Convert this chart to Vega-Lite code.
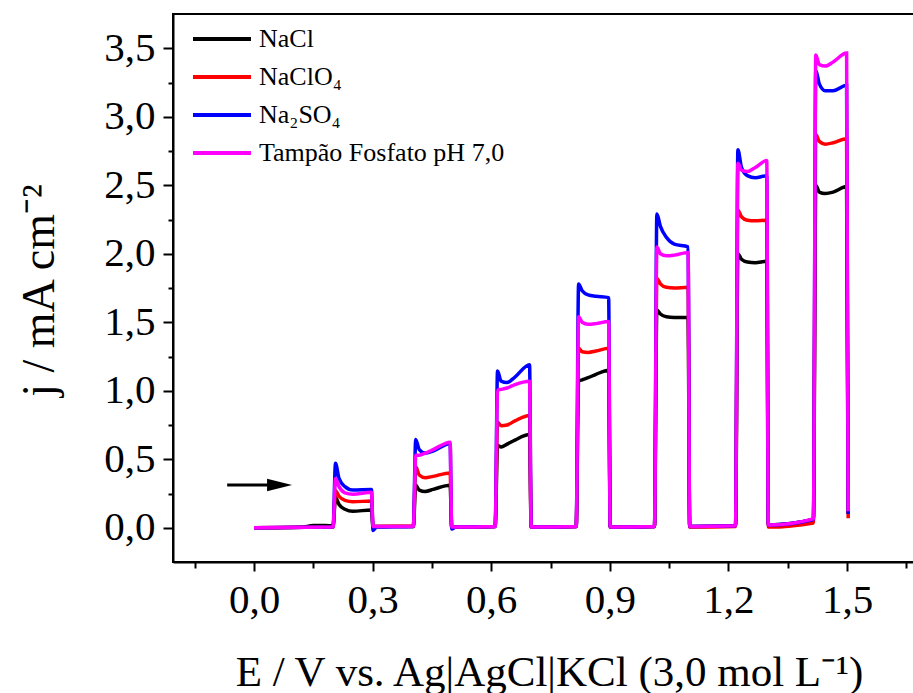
{
  "$schema": "https://vega.github.io/schema/vega-lite/v6.json",
  "width": 742,
  "height": 548,
  "autosize": {"type": "none"},
  "padding": {"left": 173, "top": 14, "right": 0, "bottom": 131},
  "background": "white",
  "view": {"stroke": "black", "strokeWidth": 2},
  "config": {
    "font": "Liberation Serif",
    "axis": {"grid": false, "domainColor": "black", "tickColor": "black", "labelColor": "black", "titleColor": "black", "labelFont": "Liberation Serif", "titleFont": "Liberation Serif", "domainWidth": 2, "tickWidth": 2, "titleFontWeight": "normal", "labelFlush": false, "labelOverlap": false, "labelBound": false},
    "legend": {"labelFont": "Liberation Serif", "labelColor": "black"}
  },
  "datasets": {
    "curves": [
      {"s": "NaCl", "E": 0, "j": 0}, {"s": "NaCl", "E": 0.12, "j": 0.004}, {"s": "NaCl", "E": 0.15, "j": 0.016}, {"s": "NaCl", "E": 0.18, "j": 0.016}, {"s": "NaCl", "E": 0.2, "j": 0.014},
      {"s": "NaCl", "E": 0.206, "j": 0.22}, {"s": "NaCl", "E": 0.215, "j": 0.17}, {"s": "NaCl", "E": 0.23, "j": 0.135}, {"s": "NaCl", "E": 0.25, "j": 0.12}, {"s": "NaCl", "E": 0.297, "j": 0.13}, {"s": "NaCl", "E": 0.301, "j": 0.01},
      {"s": "NaCl", "E": 0.403, "j": 0.01}, {"s": "NaCl", "E": 0.409, "j": 0.31}, {"s": "NaCl", "E": 0.418, "j": 0.275}, {"s": "NaCl", "E": 0.433, "j": 0.265}, {"s": "NaCl", "E": 0.453, "j": 0.28}, {"s": "NaCl", "E": 0.496, "j": 0.31}, {"s": "NaCl", "E": 0.5, "j": 0.005},
      {"s": "NaCl", "E": 0.61, "j": 0.01}, {"s": "NaCl", "E": 0.616, "j": 0.6}, {"s": "NaCl", "E": 0.625, "j": 0.59}, {"s": "NaCl", "E": 0.64, "j": 0.61}, {"s": "NaCl", "E": 0.66, "j": 0.64}, {"s": "NaCl", "E": 0.697, "j": 0.68}, {"s": "NaCl", "E": 0.701, "j": 0.005},
      {"s": "NaCl", "E": 0.815, "j": 0.01}, {"s": "NaCl", "E": 0.821, "j": 1.07}, {"s": "NaCl", "E": 0.83, "j": 1.08}, {"s": "NaCl", "E": 0.845, "j": 1.095}, {"s": "NaCl", "E": 0.865, "j": 1.12}, {"s": "NaCl", "E": 0.897, "j": 1.15}, {"s": "NaCl", "E": 0.901, "j": 0.005},
      {"s": "NaCl", "E": 1.013, "j": 0.01}, {"s": "NaCl", "E": 1.019, "j": 1.59}, {"s": "NaCl", "E": 1.028, "j": 1.56}, {"s": "NaCl", "E": 1.043, "j": 1.54}, {"s": "NaCl", "E": 1.063, "j": 1.535}, {"s": "NaCl", "E": 1.098, "j": 1.535}, {"s": "NaCl", "E": 1.102, "j": 0.01},
      {"s": "NaCl", "E": 1.218, "j": 0.015}, {"s": "NaCl", "E": 1.224, "j": 2.0}, {"s": "NaCl", "E": 1.233, "j": 1.96}, {"s": "NaCl", "E": 1.248, "j": 1.94}, {"s": "NaCl", "E": 1.268, "j": 1.935}, {"s": "NaCl", "E": 1.297, "j": 1.945}, {"s": "NaCl", "E": 1.301, "j": 0.02},
      {"s": "NaCl", "E": 1.415, "j": 0.06}, {"s": "NaCl", "E": 1.421, "j": 2.5}, {"s": "NaCl", "E": 1.43, "j": 2.45}, {"s": "NaCl", "E": 1.445, "j": 2.44}, {"s": "NaCl", "E": 1.465, "j": 2.45}, {"s": "NaCl", "E": 1.499, "j": 2.49}, {"s": "NaCl", "E": 1.503, "j": 0.1},

      {"s": "NaClO₄", "E": 0, "j": 0}, {"s": "NaClO₄", "E": 0.2, "j": 0.005},
      {"s": "NaClO₄", "E": 0.206, "j": 0.27}, {"s": "NaClO₄", "E": 0.215, "j": 0.23}, {"s": "NaClO₄", "E": 0.23, "j": 0.2}, {"s": "NaClO₄", "E": 0.25, "j": 0.19}, {"s": "NaClO₄", "E": 0.297, "j": 0.195}, {"s": "NaClO₄", "E": 0.301, "j": 0.01},
      {"s": "NaClO₄", "E": 0.403, "j": 0.012}, {"s": "NaClO₄", "E": 0.409, "j": 0.445}, {"s": "NaClO₄", "E": 0.418, "j": 0.385}, {"s": "NaClO₄", "E": 0.433, "j": 0.365}, {"s": "NaClO₄", "E": 0.453, "j": 0.375}, {"s": "NaClO₄", "E": 0.496, "j": 0.4}, {"s": "NaClO₄", "E": 0.5, "j": 0.005},
      {"s": "NaClO₄", "E": 0.61, "j": 0.01}, {"s": "NaClO₄", "E": 0.616, "j": 0.77}, {"s": "NaClO₄", "E": 0.625, "j": 0.745}, {"s": "NaClO₄", "E": 0.64, "j": 0.75}, {"s": "NaClO₄", "E": 0.66, "j": 0.78}, {"s": "NaClO₄", "E": 0.697, "j": 0.82}, {"s": "NaClO₄", "E": 0.701, "j": 0.005},
      {"s": "NaClO₄", "E": 0.815, "j": 0.01}, {"s": "NaClO₄", "E": 0.821, "j": 1.31}, {"s": "NaClO₄", "E": 0.83, "j": 1.285}, {"s": "NaClO₄", "E": 0.845, "j": 1.28}, {"s": "NaClO₄", "E": 0.865, "j": 1.29}, {"s": "NaClO₄", "E": 0.897, "j": 1.31}, {"s": "NaClO₄", "E": 0.901, "j": 0.005},
      {"s": "NaClO₄", "E": 1.013, "j": 0.01}, {"s": "NaClO₄", "E": 1.019, "j": 1.82}, {"s": "NaClO₄", "E": 1.028, "j": 1.78}, {"s": "NaClO₄", "E": 1.043, "j": 1.755}, {"s": "NaClO₄", "E": 1.063, "j": 1.75}, {"s": "NaClO₄", "E": 1.098, "j": 1.755}, {"s": "NaClO₄", "E": 1.102, "j": 0.005},
      {"s": "NaClO₄", "E": 1.218, "j": 0.01}, {"s": "NaClO₄", "E": 1.224, "j": 2.32}, {"s": "NaClO₄", "E": 1.233, "j": 2.27}, {"s": "NaClO₄", "E": 1.248, "j": 2.245}, {"s": "NaClO₄", "E": 1.268, "j": 2.24}, {"s": "NaClO₄", "E": 1.297, "j": 2.245}, {"s": "NaClO₄", "E": 1.301, "j": 0.005},
      {"s": "NaClO₄", "E": 1.415, "j": 0.035}, {"s": "NaClO₄", "E": 1.421, "j": 2.87}, {"s": "NaClO₄", "E": 1.43, "j": 2.82}, {"s": "NaClO₄", "E": 1.445, "j": 2.8}, {"s": "NaClO₄", "E": 1.465, "j": 2.81}, {"s": "NaClO₄", "E": 1.499, "j": 2.84}, {"s": "NaClO₄", "E": 1.503, "j": 0.07},

      {"s": "Na₂SO₄", "E": 0, "j": 0}, {"s": "Na₂SO₄", "E": 0.2, "j": 0.005},
      {"s": "Na₂SO₄", "E": 0.206, "j": 0.47}, {"s": "Na₂SO₄", "E": 0.215, "j": 0.36}, {"s": "Na₂SO₄", "E": 0.23, "j": 0.3}, {"s": "Na₂SO₄", "E": 0.25, "j": 0.275}, {"s": "Na₂SO₄", "E": 0.297, "j": 0.28}, {"s": "Na₂SO₄", "E": 0.301, "j": -0.02}, {"s": "Na₂SO₄", "E": 0.31, "j": 0.005},
      {"s": "Na₂SO₄", "E": 0.403, "j": 0.01}, {"s": "Na₂SO₄", "E": 0.409, "j": 0.645}, {"s": "Na₂SO₄", "E": 0.418, "j": 0.57}, {"s": "Na₂SO₄", "E": 0.433, "j": 0.545}, {"s": "Na₂SO₄", "E": 0.453, "j": 0.56}, {"s": "Na₂SO₄", "E": 0.496, "j": 0.615}, {"s": "Na₂SO₄", "E": 0.5, "j": -0.01}, {"s": "Na₂SO₄", "E": 0.51, "j": 0.005},
      {"s": "Na₂SO₄", "E": 0.61, "j": 0.01}, {"s": "Na₂SO₄", "E": 0.616, "j": 1.145}, {"s": "Na₂SO₄", "E": 0.625, "j": 1.07}, {"s": "Na₂SO₄", "E": 0.64, "j": 1.06}, {"s": "Na₂SO₄", "E": 0.66, "j": 1.1}, {"s": "Na₂SO₄", "E": 0.697, "j": 1.19}, {"s": "Na₂SO₄", "E": 0.701, "j": 0.005},
      {"s": "Na₂SO₄", "E": 0.815, "j": 0.01}, {"s": "Na₂SO₄", "E": 0.821, "j": 1.78}, {"s": "Na₂SO₄", "E": 0.83, "j": 1.73}, {"s": "Na₂SO₄", "E": 0.845, "j": 1.7}, {"s": "Na₂SO₄", "E": 0.865, "j": 1.69}, {"s": "Na₂SO₄", "E": 0.897, "j": 1.68}, {"s": "Na₂SO₄", "E": 0.901, "j": 0.005},
      {"s": "Na₂SO₄", "E": 1.013, "j": 0.01}, {"s": "Na₂SO₄", "E": 1.019, "j": 2.29}, {"s": "Na₂SO₄", "E": 1.028, "j": 2.2}, {"s": "Na₂SO₄", "E": 1.043, "j": 2.12}, {"s": "Na₂SO₄", "E": 1.063, "j": 2.07}, {"s": "Na₂SO₄", "E": 1.098, "j": 2.05}, {"s": "Na₂SO₄", "E": 1.102, "j": 0.01},
      {"s": "Na₂SO₄", "E": 1.218, "j": 0.015}, {"s": "Na₂SO₄", "E": 1.224, "j": 2.76}, {"s": "Na₂SO₄", "E": 1.233, "j": 2.63}, {"s": "Na₂SO₄", "E": 1.248, "j": 2.57}, {"s": "Na₂SO₄", "E": 1.268, "j": 2.555}, {"s": "Na₂SO₄", "E": 1.297, "j": 2.57}, {"s": "Na₂SO₄", "E": 1.301, "j": 0.02},
      {"s": "Na₂SO₄", "E": 1.415, "j": 0.06}, {"s": "Na₂SO₄", "E": 1.421, "j": 3.34}, {"s": "Na₂SO₄", "E": 1.43, "j": 3.24}, {"s": "Na₂SO₄", "E": 1.445, "j": 3.19}, {"s": "Na₂SO₄", "E": 1.465, "j": 3.19}, {"s": "Na₂SO₄", "E": 1.499, "j": 3.23}, {"s": "Na₂SO₄", "E": 1.503, "j": 0.1},

      {"s": "Tampão Fosfato pH 7,0", "E": 0, "j": 0}, {"s": "Tampão Fosfato pH 7,0", "E": 0.2, "j": 0.005},
      {"s": "Tampão Fosfato pH 7,0", "E": 0.206, "j": 0.36}, {"s": "Tampão Fosfato pH 7,0", "E": 0.215, "j": 0.3}, {"s": "Tampão Fosfato pH 7,0", "E": 0.23, "j": 0.255}, {"s": "Tampão Fosfato pH 7,0", "E": 0.25, "j": 0.245}, {"s": "Tampão Fosfato pH 7,0", "E": 0.297, "j": 0.26}, {"s": "Tampão Fosfato pH 7,0", "E": 0.301, "j": 0.01},
      {"s": "Tampão Fosfato pH 7,0", "E": 0.403, "j": 0.01}, {"s": "Tampão Fosfato pH 7,0", "E": 0.409, "j": 0.53}, {"s": "Tampão Fosfato pH 7,0", "E": 0.418, "j": 0.53}, {"s": "Tampão Fosfato pH 7,0", "E": 0.433, "j": 0.545}, {"s": "Tampão Fosfato pH 7,0", "E": 0.453, "j": 0.57}, {"s": "Tampão Fosfato pH 7,0", "E": 0.496, "j": 0.625}, {"s": "Tampão Fosfato pH 7,0", "E": 0.5, "j": 0.005},
      {"s": "Tampão Fosfato pH 7,0", "E": 0.61, "j": 0.01}, {"s": "Tampão Fosfato pH 7,0", "E": 0.616, "j": 1.005}, {"s": "Tampão Fosfato pH 7,0", "E": 0.625, "j": 1.01}, {"s": "Tampão Fosfato pH 7,0", "E": 0.64, "j": 1.02}, {"s": "Tampão Fosfato pH 7,0", "E": 0.66, "j": 1.045}, {"s": "Tampão Fosfato pH 7,0", "E": 0.697, "j": 1.07}, {"s": "Tampão Fosfato pH 7,0", "E": 0.701, "j": 0.005},
      {"s": "Tampão Fosfato pH 7,0", "E": 0.815, "j": 0.01}, {"s": "Tampão Fosfato pH 7,0", "E": 0.821, "j": 1.54}, {"s": "Tampão Fosfato pH 7,0", "E": 0.83, "j": 1.5}, {"s": "Tampão Fosfato pH 7,0", "E": 0.845, "j": 1.485}, {"s": "Tampão Fosfato pH 7,0", "E": 0.865, "j": 1.49}, {"s": "Tampão Fosfato pH 7,0", "E": 0.897, "j": 1.505}, {"s": "Tampão Fosfato pH 7,0", "E": 0.901, "j": 0.005},
      {"s": "Tampão Fosfato pH 7,0", "E": 1.013, "j": 0.01}, {"s": "Tampão Fosfato pH 7,0", "E": 1.019, "j": 2.05}, {"s": "Tampão Fosfato pH 7,0", "E": 1.028, "j": 2.0}, {"s": "Tampão Fosfato pH 7,0", "E": 1.043, "j": 1.985}, {"s": "Tampão Fosfato pH 7,0", "E": 1.063, "j": 1.99}, {"s": "Tampão Fosfato pH 7,0", "E": 1.098, "j": 2.01}, {"s": "Tampão Fosfato pH 7,0", "E": 1.102, "j": 0.01},
      {"s": "Tampão Fosfato pH 7,0", "E": 1.218, "j": 0.015}, {"s": "Tampão Fosfato pH 7,0", "E": 1.224, "j": 2.66}, {"s": "Tampão Fosfato pH 7,0", "E": 1.233, "j": 2.61}, {"s": "Tampão Fosfato pH 7,0", "E": 1.248, "j": 2.6}, {"s": "Tampão Fosfato pH 7,0", "E": 1.268, "j": 2.63}, {"s": "Tampão Fosfato pH 7,0", "E": 1.297, "j": 2.68}, {"s": "Tampão Fosfato pH 7,0", "E": 1.301, "j": 0.02},
      {"s": "Tampão Fosfato pH 7,0", "E": 1.415, "j": 0.065}, {"s": "Tampão Fosfato pH 7,0", "E": 1.421, "j": 3.45}, {"s": "Tampão Fosfato pH 7,0", "E": 1.43, "j": 3.38}, {"s": "Tampão Fosfato pH 7,0", "E": 1.445, "j": 3.37}, {"s": "Tampão Fosfato pH 7,0", "E": 1.465, "j": 3.4}, {"s": "Tampão Fosfato pH 7,0", "E": 1.499, "j": 3.465}, {"s": "Tampão Fosfato pH 7,0", "E": 1.503, "j": 0.12}
    ],
    "arrowShaft": [{"E": -0.068, "j": 0.312}, {"E": 0.045, "j": 0.312}],
    "arrowHead": [{"E": 0.0645, "j": 0.312}]
  },
  "layer": [
    {
      "data": {"name": "arrowShaft"},
      "mark": {"type": "point", "opacity": 0},
      "encoding": {
        "x": {"field": "E", "type": "quantitative", "scale": {"domain": [-0.205, 1.672], "nice": false, "zero": false},
          "axis": {"orient": "bottom", "values": [-0.15, 0.15, 0.45, 0.75, 1.05, 1.35, 1.65], "labels": false, "tickSize": 6, "domain": false, "title": null}},
        "y": {"field": "j", "type": "quantitative", "scale": {"domain": [-0.25, 3.75], "nice": false, "zero": false},
          "axis": {"orient": "left", "values": [0.25, 0.75, 1.25, 1.75, 2.25, 2.75, 3.25], "labels": false, "tickSize": 5, "domain": false, "title": null}}
      }
    },
    {
      "data": {"name": "curves"},
      "mark": {"type": "line", "strokeWidth": 3.5, "interpolate": "monotone", "clip": true},
      "encoding": {
        "x": {"field": "E", "type": "quantitative",
          "axis": {"orient": "bottom", "values": [0, 0.3, 0.6, 0.9, 1.2, 1.5], "labelExpr": "replace(format(datum.value, '.1f'), '.', ',')", "labelFontSize": 41, "tickSize": 9, "labelBaseline": "alphabetic", "labelPadding": 41,
            "title": "E / V vs. Ag|AgCl|KCl (3,0 mol L⁻¹)", "titleFontSize": 43, "titleX": 376, "titleY": 123, "titleBaseline": "alphabetic", "titleAlign": "center"}},
        "y": {"field": "j", "type": "quantitative",
          "axis": {"orient": "left", "values": [0, 0.5, 1, 1.5, 2, 2.5, 3, 3.5], "labelExpr": "replace(format(datum.value, '.1f'), '.', ',')", "labelFontSize": 41, "tickSize": 10, "labelPadding": 8,
            "title": "j / mA cm⁻²", "titleFontSize": 46, "titleX": -120, "titleY": 276, "titleAngle": -90, "titleBaseline": "alphabetic", "titleAlign": "center"}},
        "color": {"field": "s", "type": "nominal",
          "scale": {"domain": ["NaCl", "NaClO₄", "Na₂SO₄", "Tampão Fosfato pH 7,0"], "range": ["#000000", "#ff0000", "#0000ff", "#ff00ff"]},
          "legend": {"orient": "none", "legendX": 35, "legendY": 11, "title": null, "symbolType": "M-2.5,0H2.5", "symbolSize": 538, "symbolStrokeWidth": 4, "labelFontSize": 26, "labelOffset": 23, "labelLimit": 500, "rowPadding": 11, "padding": 0}}
      }
    },
    {
      "data": {"name": "arrowShaft"},
      "mark": {"type": "line", "color": "black", "strokeWidth": 3},
      "encoding": {
        "x": {"field": "E", "type": "quantitative", "axis": null},
        "y": {"field": "j", "type": "quantitative", "axis": null}
      }
    },
    {
      "data": {"name": "arrowHead"},
      "mark": {"type": "point", "shape": "M-1,-0.5L1,0L-1,0.5Z", "size": 625, "filled": true, "color": "black", "opacity": 1},
      "encoding": {
        "x": {"field": "E", "type": "quantitative", "axis": null},
        "y": {"field": "j", "type": "quantitative", "axis": null}
      }
    }
  ],
  "resolve": {"axis": {"x": "independent", "y": "independent"}}
}
